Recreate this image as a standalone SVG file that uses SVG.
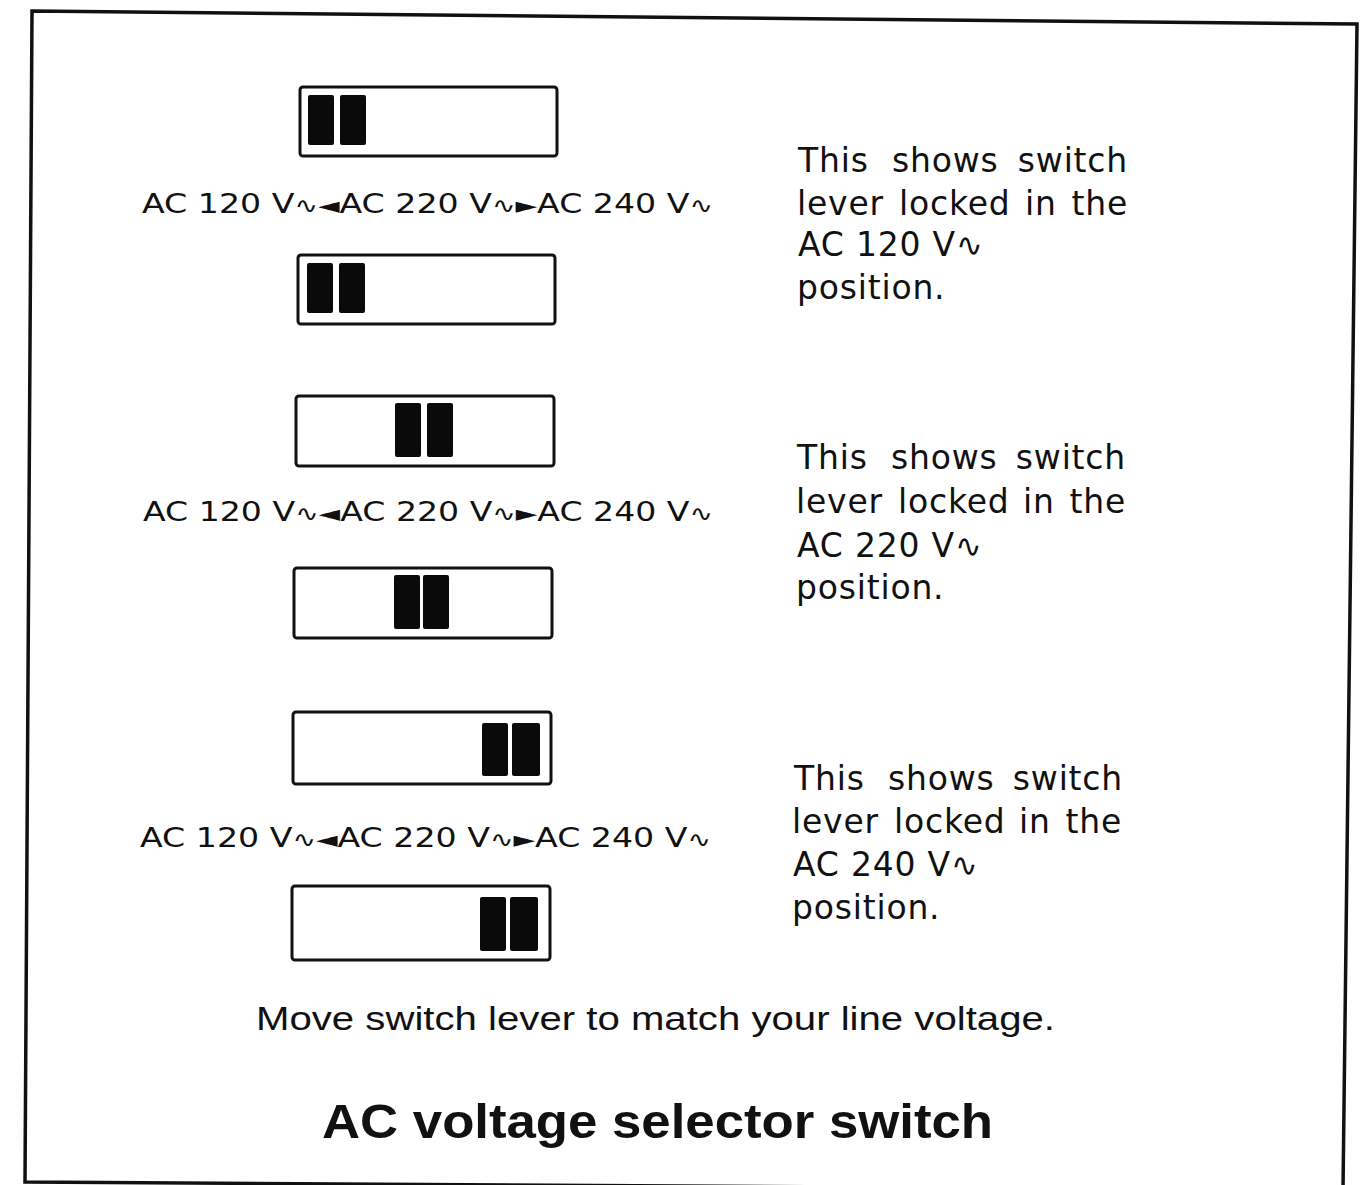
<svg xmlns="http://www.w3.org/2000/svg" width="1362" height="1185" viewBox="0 0 1362 1185">
<style>
.frame{fill:none;stroke:#111;stroke-width:3.5;stroke-linejoin:miter}
.box{fill:#fff;stroke:#111;stroke-width:3}
.lever{fill:#0a0a0a}
.lbl{font-family:"DejaVu Sans","Liberation Sans",sans-serif;font-size:26px;fill:#111}
.sym{font-size:22px}
.desc{font-family:"DejaVu Sans","Liberation Sans",sans-serif;font-size:33px;letter-spacing:0.8px;fill:#111}
.end{text-anchor:end}
.til{font-size:32px}
.note{font-family:"Liberation Sans","Arial",sans-serif;font-size:34px;fill:#111}
.title{font-family:"Liberation Sans","Arial",sans-serif;font-size:48px;font-weight:bold;fill:#111}
</style>
<rect width="1362" height="1185" fill="#fff"/>
<polygon class="frame" points="32,11 1357,24 1343,1190 25,1182"/>

<g id="switch1-top"><rect class="box" x="300" y="87" width="257" height="69" rx="3"/><rect class="lever" x="308" y="95" width="26" height="50" rx="2"/><rect class="lever" x="340" y="95" width="26" height="50" rx="2"/></g>
<g id="label1"><text class="lbl" x="142" y="213" textLength="571" lengthAdjust="spacingAndGlyphs">AC 120 V<tspan class="sym">∿</tspan><tspan class="sym">◄</tspan>AC 220 V<tspan class="sym">∿</tspan><tspan class="sym">►</tspan>AC 240 V<tspan class="sym">∿</tspan></text></g>
<g id="switch1-bottom"><rect class="box" x="298" y="255" width="257" height="69" rx="3"/><rect class="lever" x="307" y="263" width="26" height="50" rx="2"/><rect class="lever" x="339" y="263" width="26" height="50" rx="2"/></g>
<g id="desc1" class="desc">
<text y="172"><tspan x="798">This</tspan><tspan x="892">shows</tspan><tspan x="1128" class="end">switch</tspan></text>
<text y="215"><tspan x="797">lever</tspan><tspan x="899">locked</tspan><tspan x="1025">in</tspan><tspan x="1128" class="end">the</tspan></text>
<text x="798" y="256">AC 120 V<tspan class="til">∿</tspan></text>
<text x="797" y="299">position.</text>
</g>

<g id="switch2-top"><rect class="box" x="296" y="396" width="258" height="70" rx="3"/><rect class="lever" x="395" y="403" width="26" height="54" rx="2"/><rect class="lever" x="427" y="403" width="26" height="54" rx="2"/></g>
<g id="label2"><text class="lbl" x="143" y="521" textLength="570" lengthAdjust="spacingAndGlyphs">AC 120 V<tspan class="sym">∿</tspan><tspan class="sym">◄</tspan>AC 220 V<tspan class="sym">∿</tspan><tspan class="sym">►</tspan>AC 240 V<tspan class="sym">∿</tspan></text></g>
<g id="switch2-bottom"><rect class="box" x="294" y="568" width="258" height="70" rx="3"/><rect class="lever" x="394" y="575" width="26" height="54" rx="2"/><rect class="lever" x="423" y="575" width="26" height="54" rx="2"/></g>
<g id="desc2" class="desc">
<text y="469"><tspan x="797">This</tspan><tspan x="891">shows</tspan><tspan x="1126" class="end">switch</tspan></text>
<text y="513"><tspan x="796">lever</tspan><tspan x="898">locked</tspan><tspan x="1023">in</tspan><tspan x="1126" class="end">the</tspan></text>
<text x="797" y="557">AC 220 V<tspan class="til">∿</tspan></text>
<text x="796" y="599">position.</text>
</g>

<g id="switch3-top"><rect class="box" x="293" y="712" width="258" height="72" rx="3"/><rect class="lever" x="482" y="723" width="26" height="53" rx="2"/><rect class="lever" x="512" y="723" width="28" height="53" rx="2"/></g>
<g id="label3"><text class="lbl" x="140" y="847" textLength="571" lengthAdjust="spacingAndGlyphs">AC 120 V<tspan class="sym">∿</tspan><tspan class="sym">◄</tspan>AC 220 V<tspan class="sym">∿</tspan><tspan class="sym">►</tspan>AC 240 V<tspan class="sym">∿</tspan></text></g>
<g id="switch3-bottom"><rect class="box" x="292" y="886" width="258" height="74" rx="3"/><rect class="lever" x="480" y="897" width="26" height="54" rx="2"/><rect class="lever" x="510" y="897" width="28" height="54" rx="2"/></g>
<g id="desc3" class="desc">
<text y="790"><tspan x="794">This</tspan><tspan x="888">shows</tspan><tspan x="1123" class="end">switch</tspan></text>
<text y="833"><tspan x="792">lever</tspan><tspan x="894">locked</tspan><tspan x="1019">in</tspan><tspan x="1122" class="end">the</tspan></text>
<text x="793" y="876">AC 240 V<tspan class="til">∿</tspan></text>
<text x="792" y="919">position.</text>
</g>

<g id="note"><text class="note" x="256" y="1030" textLength="799" lengthAdjust="spacingAndGlyphs">Move switch lever to match your line voltage.</text></g>
<g id="title"><text class="title" x="322" y="1138" textLength="671" lengthAdjust="spacingAndGlyphs">AC voltage selector switch</text></g>
</svg>
